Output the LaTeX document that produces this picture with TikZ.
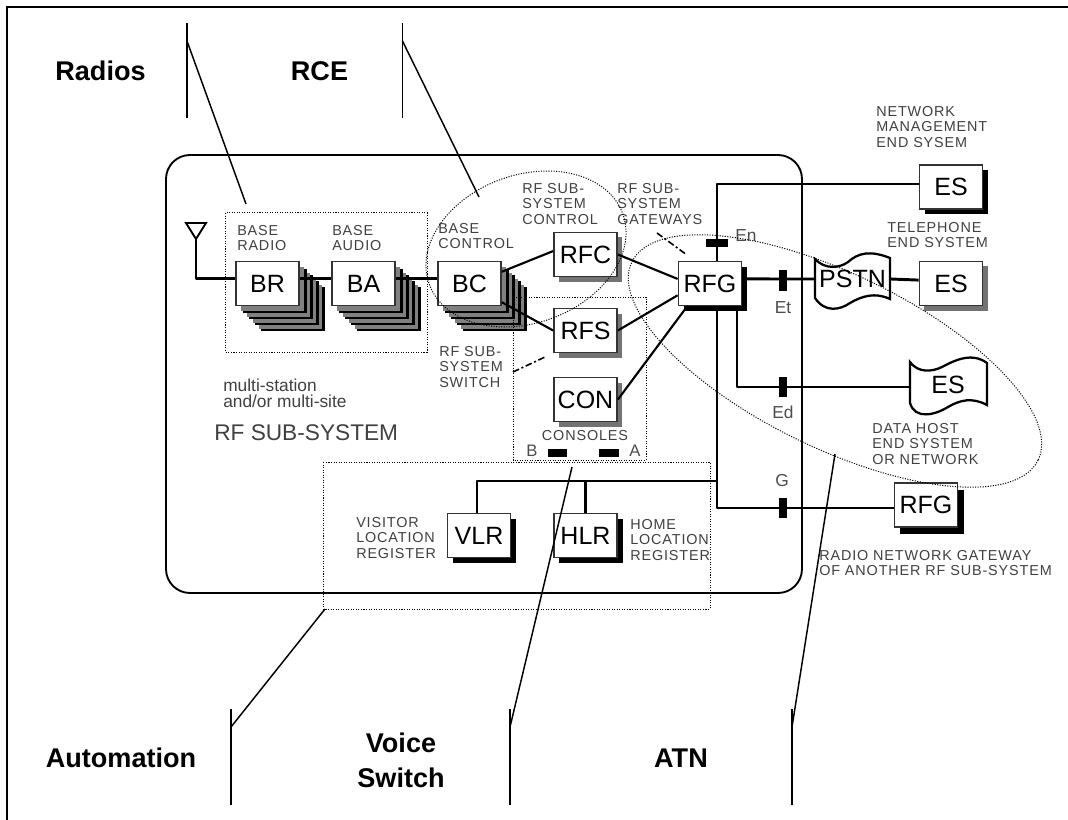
\documentclass[tikz,border=0pt]{standalone}
\usepackage{fontspec}
\setmainfont{Liberation Sans}
\newfontfamily\capfont[LetterSpace=6]{Liberation Sans}
\usetikzlibrary{shadows}
\tikzset{
  boxnode/.style={draw=black!80,fill=white,line width=1.1pt,inner sep=0pt,minimum width=47.5pt,minimum height=33pt,font=\fontsize{18.75}{20}\selectfont},
  softbox/.style={boxnode,general shadow={shadow xshift=3.75pt,shadow yshift=-3.75pt,fill=black!55}},
  hardbox/.style={boxnode,general shadow={shadow xshift=4pt,shadow yshift=-4pt,fill=black}},
  stacklayer/.style={general shadow={shadow xshift=#1pt,shadow yshift=-#1pt,fill=black},
    general shadow={shadow xshift=#1pt-1.6pt,shadow yshift=-#1pt+1.6pt,fill=black!50}},
  stackbox/.style={boxnode,stacklayer=19,stacklayer=14.5,stacklayer=10,stacklayer=5.5},
  wire/.style={line width=2.2pt,line join=round},
  thinwire/.style={line width=1.6pt,line join=round},
  dotline/.style={line width=.75pt,dash pattern=on .8pt off 1.1pt},
  pointer/.style={line width=1.1pt},
  barnode/.style={fill=black,inner sep=0pt},
  smalltext/.style={font=\fontsize{10.8}{11.6}\selectfont\capfont,text=black!75,align=left,inner sep=0pt,anchor=north west},
  portname/.style={font=\fontsize{13}{14}\selectfont,text=black!70,inner sep=0pt},
  headtext/.style={font=\fontsize{20.3}{26}\selectfont\bfseries,align=center,inner sep=0pt},
}
\begin{document}
\begin{tikzpicture}[x=.75pt,y=-.75pt]
  \useasboundingbox (0,0) rectangle (1068,820);
  % page edge, only left and top
  \draw[line width=1.5pt] (7,820) -- (7,7) -- (1068,7);

  % the sub-system outline
  \draw[line width=1.4pt,rounded corners=18pt] (166,155) rectangle (802,593);
  \draw[line width=2.2pt] (220,155) -- (258,155);

  % boxes
  \node[stackbox] (BR) at (267.5,283.5) {BR};
  \node[stackbox] (BA) at (363.5,283.5) {BA};
  \node[stackbox] (BC) at (469.5,283.5) {BC};
  \node[softbox] (RFC) at (585.5,254.5) {RFC};
  \node[softbox] (RFS) at (585.5,330.5) {RFS};
  \node[softbox] (CON) at (585.5,399.5) {CON};
  \node[hardbox] (RFG) at (710,283.5) {RFG};
  \node[hardbox] (VLR) at (479,535.5) {VLR};
  \node[hardbox] (HLR) at (585.5,535.5) {HLR};
  \node[hardbox] (ESn) at (951,187) {ES};
  \node[softbox] (ESt) at (951,283.5) {ES};
  \node[boxnode,general shadow={shadow xshift=4.5pt,shadow yshift=-5pt,fill=black}] (RFGb) at (926,505) {RFG};

  % clouds
  \draw[line width=1.7pt,fill=white] (815,259) .. controls (825,270) and (840,268) .. (848,262)
    .. controls (858,253) and (870,250) .. (890,258) -- (890,299)
    .. controls (875,292) and (862,296) .. (850,303) .. controls (840,310) and (825,313) .. (815,298) -- cycle;
  \node[inner sep=0pt,minimum width=57pt,minimum height=30pt,font=\fontsize{18.75}{20}\selectfont] (PSTN) at (852.5,279) {PSTN};
  \draw[line width=1.7pt,fill=white] (910,362) .. controls (918,373) and (932,372) .. (942,367)
    .. controls (955,360) and (972,352) .. (987,363) -- (987,405)
    .. controls (972,397) and (960,400) .. (948,407) .. controls (935,415) and (915,420) .. (910,403) -- cycle;
  \node[inner sep=0pt,minimum width=58pt,minimum height=30pt,font=\fontsize{18.75}{20}\selectfont] (ESd) at (948,385) {ES};

  % antenna
  \coordinate (aerial) at (196,239);
  \draw[line width=1.4pt] (186,223) -- (206,223) -- (aerial) -- cycle;
  \draw[wire] (aerial) |- (BR.172);

  % links between the boxes
  \draw[wire] (BR.8) -- (BA.172);
  \draw[wire] (BA.8) -- (BC.172);
  \draw[thinwire] (BC.20) -- (RFC.174);
  \draw[thinwire] (BC.-30) -- (RFS.west);
  \draw[thinwire] (RFC.east) -- (RFG.172);
  \draw[thinwire] (RFS.east) -- (RFG.200);
  \draw[thinwire] (CON.east) -- (RFG.225);

  % bus and stubs
  \coordinate (busN) at (717,184);
  \coordinate (busL) at (717,481);
  \coordinate (busG) at (717,508);
  \coordinate (busD) at (737,387);
  \draw[wire] (busN |- RFG.north) -- (busN) -- (ESn.west |- busN);
  \draw[wire] (busN |- RFG.south) -- (busG) -- (RFGb.west |- busG);
  \draw[thinwire] (busL) -| (VLR.95);
  \draw[wire] (HLR.north |- busL) -- (HLR.north);
  \draw[thinwire] (busD |- RFG.south) -- (busD) -- (ESd.west |- busD);
  \draw[wire] (RFG.8) -- (PSTN.west);
  \draw[wire] (PSTN.east) -- (ESt.174);

  % interface bars
  \node[barnode,minimum width=16.5pt,minimum height=6pt] (barEn) at (717,243) {};
  \node[barnode,minimum width=6pt,minimum height=15.5pt] (barEt) at (783,280.5) {};
  \node[barnode,minimum width=6pt,minimum height=15pt] (barEd) at (783,387) {};
  \node[barnode,minimum width=6pt,minimum height=15.5pt] (barG) at (783,508) {};
  \node[barnode,minimum width=14.5pt,minimum height=6pt] (barB) at (557.5,453) {};
  \node[barnode,minimum width=15pt,minimum height=6pt] (barA) at (609,453) {};

  \node[portname] (En) at (746,236) {En};
  \node[portname] (Et) at (783,308) {Et};
  \node[portname] (Ed) at (783,412) {Ed};
  \node[portname] (G) at (782,481) {G};
  \node[portname,font=\fontsize{12.5}{14}\selectfont] (B) at (532,451) {B};
  \node[portname,font=\fontsize{12.5}{14}\selectfont] (A) at (635,451) {A};

  % small captions
  \node[smalltext] (capBR) at (237,225) {BASE\\RADIO};
  \node[smalltext] (capBA) at (332,225) {BASE\\AUDIO};
  \node[smalltext] (capBC) at (438,223) {BASE\\CONTROL};
  \node[smalltext] (capRFC) at (522,183) {RF SUB-\\SYSTEM\\CONTROL};
  \node[smalltext] (capRFG) at (617,183) {RF SUB-\\SYSTEM\\GATEWAYS};
  \node[smalltext] (capRFS) at (439,346) {RF SUB-\\SYSTEM\\SWITCH};
  \node[smalltext,anchor=center] (capCON) at (585,436) {CONSOLES};
  \node[smalltext] (capESn) at (876,106) {NETWORK\\MANAGEMENT\\END SYSEM};
  \node[smalltext] (capESt) at (887,222) {TELEPHONE\\END SYSTEM};
  \node[smalltext] (capESd) at (872,423) {DATA HOST\\END SYSTEM\\OR NETWORK};
  \node[smalltext] (capRFGb) at (819,550) {RADIO NETWORK GATEWAY\\OF ANOTHER RF SUB-SYSTEM};
  \node[smalltext] (capVLR) at (356,517) {VISITOR\\LOCATION\\REGISTER};
  \node[smalltext] (capHLR) at (630,519) {HOME\\LOCATION\\REGISTER};
  \node[smalltext,font=\fontsize{13}{12}\selectfont\rmfamily] (capMulti) at (223,379) {multi-station\\and/or multi-site};
  \node[smalltext,font=\fontsize{17}{20}\selectfont\rmfamily] (capRF) at (214,424) {RF SUB-SYSTEM};

  % dotted groupings
  \draw[dotline] (225.5,213) rectangle (427,352);
  \draw[dotline] (513,297) rectangle (646,460);
  \draw[dotline] (323,462) rectangle (710,609);
  \draw[dotline,rotate around={20:(526,249)}] (526,249) ellipse [x radius=103,y radius=74];
  \draw[dotline,rotate around={-26:(835,361)}] (835,361) ellipse [x radius=226,y radius=87];

  % dashed leaders
  \coordinate (leadS) at (513,372);
  \coordinate (leadG) at (657,233);
  \coordinate (leadGend) at (687,255);
  \draw[line width=1.2pt,dash pattern=on 5pt off 2pt on 1.5pt off 2pt,shorten >=6pt] (leadS) -- (RFS.south west);
  \draw[line width=1.2pt,dash pattern=on 5pt off 2pt on 1.5pt off 2pt] (leadG) -- (leadGend);

  % headings and their pointers
  \node[headtext] (Radios) at (100.5,71) {Radios};
  \node[headtext] (RCE) at (319.5,71) {RCE};
  \node[headtext] (Automation) at (121,758) {Automation};
  \node[headtext] (Voice) at (401,760) {Voice\\Switch};
  \node[headtext] (ATN) at (681,758) {ATN};

  \draw[pointer] (187,23) -- (187,118);
  \draw[pointer] (187,41) -- (246,204);
  \draw[pointer] (402.5,23) -- (402.5,118);
  \draw[pointer] (402.5,41) -- (479,197);
  \draw[pointer] (231,709) -- (231,805);
  \draw[pointer] (231,727) -- (325,609);
  \draw[pointer] (510,709) -- (510,805);
  \draw[pointer] (510,727) -- (572,467);
  \draw[pointer] (792,709) -- (792,805);
  \draw[pointer] (792,727) -- (835,454);
\end{tikzpicture}
\end{document}
